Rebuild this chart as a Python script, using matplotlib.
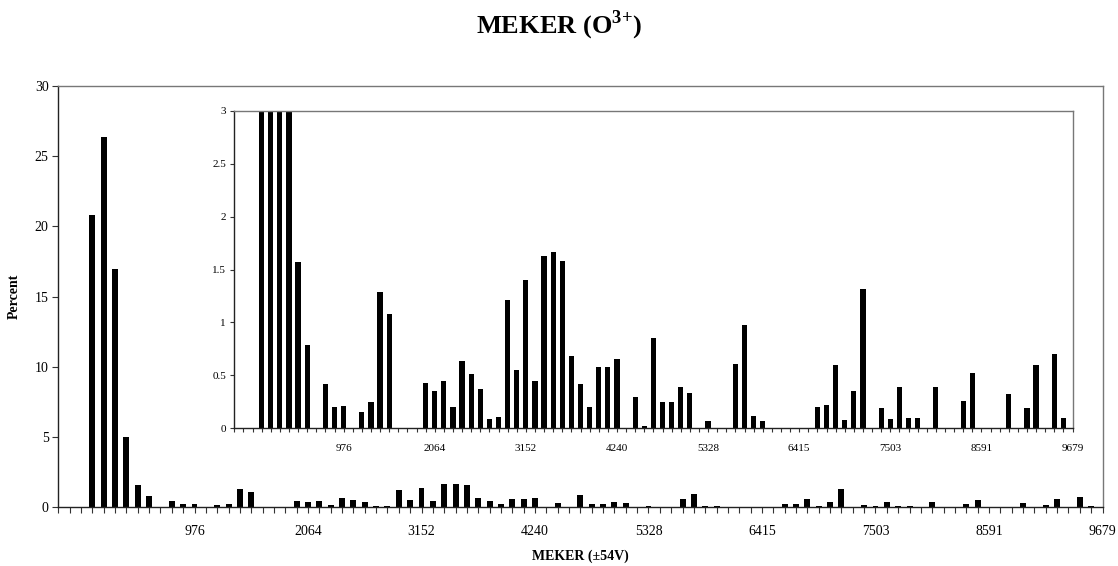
import matplotlib
matplotlib.use("Agg")
import matplotlib.pyplot as plt
import numpy as np

# ---- data (percent per energy bin, bin index 0..92) ----
percent = [0, 0, 0, 20.8, 26.35, 16.95, 5.03, 1.574, 0.787, 0,
           0.416, 0.205, 0.214, 0, 0.151, 0.246, 1.29, 1.083, 0, 0,
           0, 0.431, 0.356, 0.45, 0.198, 0.633, 0.51, 0.368, 0.088, 0.104,
           1.215, 0.548, 1.40, 0.45, 1.624, 1.662, 1.58, 0.68, 0.42, 0.2,
           0.58, 0.58, 0.65, 0, 0.296, 0.022, 0.856, 0.249, 0.249, 0.39,
           0.337, 0, 0.069, 0, 0, 0.604, 0.973, 0.116, 0.066, 0,
           0, 0, 0, 0, 0.2, 0.22, 0.598, 0.079, 0.356, 1.319,
           0, 0.192, 0.088, 0.393, 0.094, 0.1, 0, 0.393, 0, 0,
           0.26, 0.526, 0, 0, 0, 0.324, 0, 0.189, 0.595, 0,
           0.702, 0.098, 0]
tick_labels = ["976", "2064", "3152", "4240", "5328", "6415", "7503", "8591", "9679"]
first_label_bin = 12
label_every = 10
main_yticks = [0, 5, 10, 15, 20, 25, 30]
inset_yticks = [0, 0.5, 1, 1.5, 2, 2.5, 3]
title = "MEKER (O$^{\\mathbf{3{+}}}$)"
xlabel = "MEKER (\u00b154V)"
ylabel = "Percent"

plt.rcParams["font.family"] = ["Liberation Serif", "DejaVu Serif"]
plt.rcParams["mathtext.fontset"] = "custom"
plt.rcParams["mathtext.rm"] = "Liberation Serif"
plt.rcParams["mathtext.bf"] = "Liberation Serif:bold"

W, H = 1118, 566
fig = plt.figure(figsize=(W / 100, H / 100), dpi=100)

x = np.arange(len(percent))
label_pos = [first_label_bin + label_every * i for i in range(len(tick_labels))]


def style_axes(ax, fs, ticklen, pad):
    for s in ("left", "bottom"):
        ax.spines[s].set_color("#222222")
        ax.spines[s].set_linewidth(1.0)
    for s in ("top", "right"):
        ax.spines[s].set_color("#777777")
        ax.spines[s].set_linewidth(1.0)
    ax.set_xticks(x, minor=True)
    ax.set_xticks(label_pos)
    ax.set_xticklabels(tick_labels, fontsize=fs)
    ax.tick_params(axis="x", which="both", direction="out", length=ticklen,
                   color="#333333", width=0.8)
    ax.tick_params(axis="x", which="major", pad=pad)
    ax.tick_params(axis="y", which="major", direction="out", length=ticklen,
                   color="#333333", width=0.8, labelsize=fs, pad=3)
    ax.set_xlim(0, len(percent) - 1)


# main axes
ax = fig.add_axes([58.3 / W, (H - 507.3) / H, (1102.5 - 58.3) / W, (507.3 - 86) / H])
ax.bar(x, percent, width=0.52, color="black", edgecolor="none")
ax.set_ylim(0, 30)
ax.set_yticks(main_yticks)
style_axes(ax, 10, 4, 9)
ax.set_xlabel(xlabel, fontsize=10, fontweight="bold", labelpad=8)
ax.set_ylabel(ylabel, fontsize=10, fontweight="bold", labelpad=10)

# inset axes
ins = fig.add_axes([234.3 / W, (H - 428.3) / H, (1072.5 - 234.3) / W, (428.3 - 110.7) / H])
ins.bar(x, percent, width=0.58, color="black", edgecolor="none")
ins.set_ylim(0, 3)
ins.set_yticks(inset_yticks)
ins.set_yticklabels([f"{v:g}" for v in inset_yticks])
style_axes(ins, 8, 3, 8)

fig.text(559 / W, 1 - 25 / H, title, ha="center", va="center",
         fontsize=19, fontweight="bold")

fig.savefig("out.png", dpi=100)
